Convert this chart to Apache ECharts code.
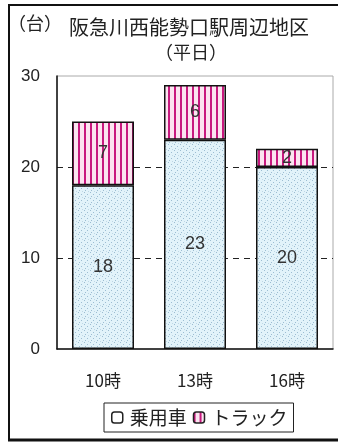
<!DOCTYPE html>
<html>
<head>
<meta charset="utf-8">
<script src="https://cdn.jsdelivr.net/npm/echarts@6/dist/echarts.min.js"></script>
<style>
  html, body { margin: 0; padding: 0; background: #fff; }
  #chart { width: 338px; height: 445px; }
</style>
</head>
<body>
<div id="chart"></div>
<script>
// data
const categories = ["10時", "13時", "16時"];
const carValues = [18, 23, 20];
const truckValues = [7, 6, 2];
const seriesNames = ["乗用車", "トラック"];

const jpFont = '"Noto Sans CJK JP", sans-serif';
const numFont = '"Liberation Sans", Arial, sans-serif';

// dotted light blue fill
function dotPattern() {
  const c = document.createElement("canvas");
  c.width = 6;
  c.height = 6;
  const ctx = c.getContext("2d");
  ctx.fillStyle = "#e2f3fa";
  ctx.fillRect(0, 0, 6, 6);
  ctx.fillStyle = "#9dbdd2";
  ctx.fillRect(0, 0, 1, 1);
  ctx.fillRect(3, 2, 1, 1);
  ctx.fillRect(1, 4, 1, 1);
  ctx.fillStyle = "#c0d8e6";
  ctx.fillRect(4, 5, 1, 1);
  return c;
}

// magenta vertical stripes
function stripePattern() {
  const c = document.createElement("canvas");
  c.width = 6;
  c.height = 4;
  const ctx = c.getContext("2d");
  ctx.fillStyle = "#fbe4f0";
  ctx.fillRect(0, 0, 6, 4);
  ctx.fillStyle = "#c8197f";
  ctx.fillRect(0, 0, 2, 4);
  return c;
}

const chart = echarts.init(document.getElementById("chart"));

const labelStyle = {
  show: true,
  position: "inside",
  color: "#333",
  fontSize: 18,
  fontFamily: numFont,
};

chart.setOption({
  animation: false,
  backgroundColor: "#fff",
  title: [
    {
      text: "阪急川西能勢口駅周辺地区",
      left: 64,
      top: 12,
      textStyle: { fontFamily: jpFont, fontSize: 20, fontWeight: "normal", color: "#222" },
    },
    {
      text: "（平日）",
      left: 150,
      top: 38,
      textStyle: { fontFamily: jpFont, fontSize: 18, fontWeight: "normal", color: "#222" },
    },
  ],
  graphic: [
    {
      type: "text",
      left: 8,
      top: 14,
      style: { text: "（台）", font: "18px " + jpFont, fill: "#222" },
    },
    {
      type: "rect",
      shape: { x: 9, y: 5, width: 340, height: 435 },
      style: { fill: null, stroke: "#111", lineWidth: 2 },
    },
    {
      type: "line",
      shape: { x1: 8, y1: 440, x2: 338, y2: 440 },
      style: { stroke: "#111", lineWidth: 3 },
    },
  ],
  legend: {
    left: 104,
    top: 403,
    itemWidth: 11,
    itemHeight: 11,
    itemGap: 6,
    padding: [5, 6, 5, 7],
    borderColor: "#222",
    borderWidth: 1,
    textStyle: { fontFamily: jpFont, fontSize: 19, color: "#222", padding: [0, 0, 0, 2] },
    data: [
      { name: seriesNames[0], itemStyle: { color: "#fff", borderColor: "#222", borderWidth: 1.5 } },
      { name: seriesNames[1], itemStyle: { color: { image: stripePattern(), repeat: "repeat" }, borderColor: "#222", borderWidth: 1.5 } },
    ],
  },
  grid: {
    left: 57,
    right: 5,
    top: 76,
    bottom: 96,
    show: true,
    borderColor: "#aaa",
    borderWidth: 1,
  },
  xAxis: {
    type: "category",
    data: categories,
    axisLine: { lineStyle: { color: "#111", width: 1.5 } },
    axisTick: { inside: true, length: 4, lineStyle: { color: "#111" } },
    axisLabel: { margin: 23, fontSize: 17, fontFamily: jpFont, color: "#222" },
  },
  yAxis: {
    type: "value",
    min: 0,
    max: 30,
    interval: 10,
    axisLine: { show: true, lineStyle: { color: "#111", width: 1.5 } },
    axisTick: { show: false },
    axisLabel: { margin: 17, fontSize: 17, fontFamily: numFont, color: "#222" },
    splitLine: {
      lineStyle: {
        type: [6, 5],
        color: ["rgba(0,0,0,0)", "#222", "#222", "rgba(0,0,0,0)"],
        width: 1,
      },
    },
  },
  series: [
    {
      name: seriesNames[0],
      type: "bar",
      stack: "total",
      barWidth: 62,
      data: carValues,
      itemStyle: {
        color: { image: dotPattern(), repeat: "repeat" },
        borderColor: "#111",
        borderWidth: 1.5,
      },
      label: labelStyle,
    },
    {
      name: seriesNames[1],
      type: "bar",
      stack: "total",
      barWidth: 62,
      data: truckValues,
      itemStyle: {
        color: { image: stripePattern(), repeat: "repeat" },
        borderColor: "#111",
        borderWidth: 1.5,
      },
      label: labelStyle,
    },
  ],
});
</script>
</body>
</html>
